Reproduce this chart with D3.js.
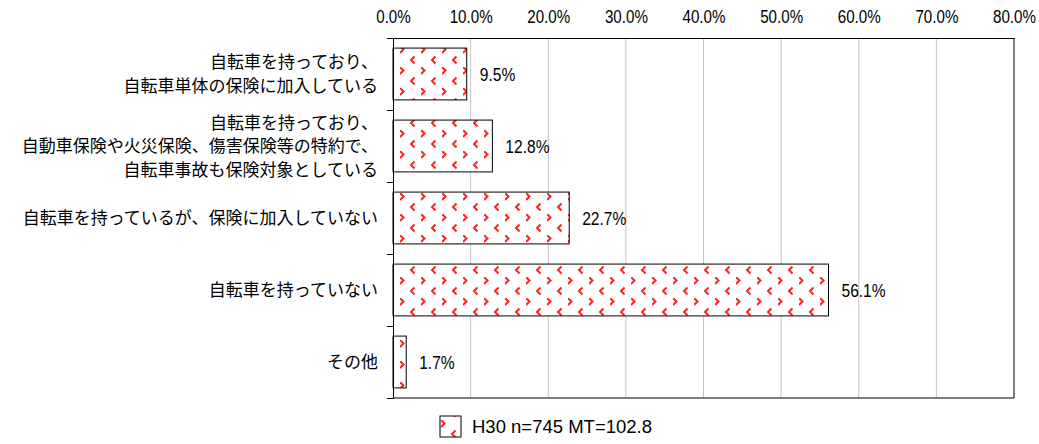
<!DOCTYPE html>
<html>
<head>
<meta charset="utf-8">
<script src="https://cdn.jsdelivr.net/npm/d3@7"></script>
<style>
  body { margin: 0; background: #fff; }
  svg { display: block; }
</style>
</head>
<body>
<div id="chart"></div>
<script>
// data
const categories = [
    ['自転車を持っており、', '自転車単体の保険に加入している'],
    ['自転車を持っており、', '自動車保険や火災保険、傷害保険等の特約で、', '自転車事故も保険対象としている'],
    ['自転車を持っているが、保険に加入していない'],
    ['自転車を持っていない'],
    ['その他']
];
const values = [9.5, 12.8, 22.7, 56.1, 1.7];
const tickValues = [0, 10, 20, 30, 40, 50, 60, 70, 80];
const legendLabel = 'H30 n=745 MT=102.8';

const width = 1039, height = 444;
const plotLeft = 393, plotRight = 1014, plotTop = 38, plotBottom = 398;
const jpFont = '"Noto Sans CJK JP", sans-serif';
const numFont = '"Liberation Sans", Arial, sans-serif';
const squeeze = 0.82; // the numbers in the picture are a narrow face

const svg = d3.select('#chart')
    .append('svg')
    .attr('width', width)
    .attr('height', height);

// red chevron pattern
const defs = svg.append('defs');
const pat = defs.append('pattern')
    .attr('id', 'chev')
    .attr('patternUnits', 'userSpaceOnUse')
    .attr('x', plotLeft + 7)
    .attr('y', 4)
    .attr('width', 21)
    .attr('height', 21);
pat.append('rect').attr('width', 21).attr('height', 21).attr('fill', '#fff');
pat.append('path')
    .attr('d', 'M0,0 L3.5,3.5 L0,7')
    .attr('fill', 'none').attr('stroke', '#ff2222').attr('stroke-width', 2);
pat.append('path')
    .attr('d', 'M14.5,10.5 L11,14 L14.5,17.5')
    .attr('fill', 'none').attr('stroke', '#ff2222').attr('stroke-width', 2);

const x = d3.scaleLinear().domain([0, 80]).range([plotLeft, plotRight]);
const y = d3.scaleBand()
    .domain(d3.range(values.length))
    .range([plotTop, plotBottom])
    .paddingInner(0.28)
    .paddingOuter(0.14);
const yEdges = d3.scaleLinear().domain([0, values.length]).range([plotTop, plotBottom]);

// gridlines
svg.append('g')
    .selectAll('line')
    .data(tickValues.filter(d => d > 0 && d < 80))
    .enter()
    .append('line')
    .attr('x1', d => x(d)).attr('x2', d => x(d))
    .attr('y1', plotTop).attr('y2', plotBottom)
    .attr('stroke', '#c4c4c4')
    .attr('stroke-width', 1);

// right and bottom frame
svg.append('line')
    .attr('x1', plotRight).attr('x2', plotRight).attr('y1', plotTop).attr('y2', plotBottom)
    .attr('stroke', '#000');
svg.append('line')
    .attr('x1', plotLeft).attr('x2', plotRight).attr('y1', plotBottom).attr('y2', plotBottom)
    .attr('stroke', '#000');

// bars
svg.append('g')
    .selectAll('rect')
    .data(values)
    .enter()
    .append('rect')
    .attr('x', x(0))
    .attr('y', (d, i) => y(i))
    .attr('width', d => x(d) - x(0))
    .attr('height', y.bandwidth())
    .attr('fill', 'url(#chev)')
    .attr('stroke', '#000')
    .attr('stroke-width', 1);

// value labels
svg.append('g')
    .selectAll('text')
    .data(values)
    .enter()
    .append('text')
    .attr('transform', (d, i) => `translate(${x(d) + 13},${y(i) + y.bandwidth() / 2}) scale(${squeeze},1)`)
    .attr('dy', '0.36em')
    .attr('font-family', numFont)
    .attr('font-size', 19)
    .attr('fill', '#000')
    .text(d => d.toFixed(1) + '%');

// top axis
const xAxis = svg.append('g')
    .attr('transform', `translate(0,${plotTop})`)
    .call(d3.axisTop(x).tickValues(tickValues).tickSize(0).tickPadding(15)
        .tickFormat(d => d.toFixed(1) + '%'));
xAxis.select('.domain').attr('stroke', '#000');
xAxis.selectAll('text')
    .attr('font-family', numFont)
    .attr('font-size', 18.5)
    .attr('fill', '#000')
    .attr('transform', `scale(${squeeze},1)`);

// left axis with ticks at band edges
const yAxis = svg.append('g')
    .attr('transform', `translate(${plotLeft},0)`)
    .call(d3.axisLeft(yEdges).ticks(values.length).tickSize(6).tickSizeOuter(0).tickFormat(''));
yAxis.selectAll('line, path').attr('stroke', '#000');

// category labels
const lineH = 23.5;
const labels = svg.append('g')
    .selectAll('text')
    .data(categories)
    .enter()
    .append('text')
    .attr('text-anchor', 'end')
    .attr('font-family', jpFont)
    .attr('font-size', 17)
    .attr('fill', '#000');
labels.each(function (lines, i) {
    const cy = y(i) + y.bandwidth() / 2;
    const y0 = cy - (lines.length - 1) * lineH / 2;
    d3.select(this).selectAll('tspan')
        .data(lines)
        .enter()
        .append('tspan')
        .attr('x', 378)
        .attr('y', (d, j) => y0 + j * lineH)
        .attr('dy', '0.36em')
        .text(d => d);
});

// legend
const legend = svg.append('g').attr('transform', 'translate(440,416)');
legend.append('rect')
    .attr('width', 21).attr('height', 21)
    .attr('fill', 'url(#chev)')
    .attr('stroke', '#000');
legend.append('text')
    .attr('x', 32)
    .attr('y', 10.5)
    .attr('dy', '0.36em')
    .attr('font-family', numFont)
    .attr('font-size', 18.5)
    .attr('fill', '#000')
    .text(legendLabel);
</script>
</body>
</html>
